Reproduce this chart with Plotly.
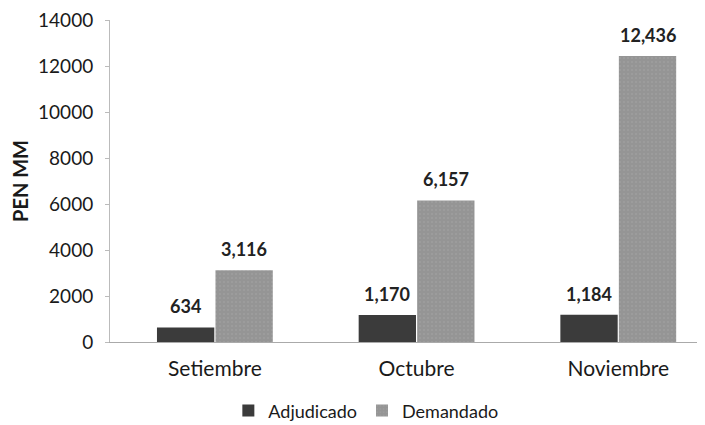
import plotly.graph_objects as go

months = ["Setiembre", "Octubre", "Noviembre"]
adjudicado = [634, 1170, 1184]
demandado = [3116, 6157, 12436]
y_ticks = [0, 2000, 4000, 6000, 8000, 10000, 12000, 14000]

font = "Lato, 'Open Sans', sans-serif"

fig = go.Figure()
fig.add_trace(go.Bar(name="Adjudicado", x=months, y=adjudicado,
                     marker=dict(color="#3b3b3b", line=dict(width=0)),
                     offsetgroup="a"))
fig.add_trace(go.Bar(name="Demandado", x=months, y=demandado,
                     marker=dict(color="#959595", line=dict(width=0),
                                 pattern=dict(shape=".", fgcolor="#a8a8a8", size=4, solidity=0.2)),
                     offsetgroup="d"))

# value labels above bars
for i, m in enumerate(months):
    for val, off in ((adjudicado[i], -0.145), (demandado[i], 0.145)):
        fig.add_annotation(x=i + off, y=val, text=f"{val:,}", showarrow=False,
                           yanchor="bottom", yshift=8, xref="x", yref="y",
                           font=dict(size=18, color="#222", family=font, weight="bold"))

# page body adds an 8px offset, margins account for it
fig.update_layout(
    width=705, height=425,
    margin=dict(l=102, r=8, t=12, b=91, autoexpand=False),
    paper_bgcolor="white", plot_bgcolor="white",
    barmode="group", bargap=0.42, bargroupgap=0.02,
    font=dict(family=font, size=16, color="#1a1a1a"),
    showlegend=True,
    legend=dict(orientation="h", x=0.43, xanchor="center", y=-0.214, yanchor="middle",
                font=dict(size=18, color="#1a1a1a"), itemwidth=30, traceorder="normal"),
    xaxis=dict(type="category", range=[-0.52, 2.43], showline=True, linecolor="#aaa",
               ticks="", tickfont=dict(size=21), automargin=False, ticklabelstandoff=8),
    yaxis=dict(range=[0, 14000], tickvals=y_ticks, ticktext=[str(t) for t in y_ticks],
               showgrid=False, showline=True, automargin=False,
               linecolor="#bbb", ticks="outside", ticklen=4, tickcolor="#bbb",
               ticklabelstandoff=8, ticklabeloverflow="allow",
               tickfont=dict(size=19), zeroline=False,
               title=dict(text="<b>PEN MM</b>", font=dict(size=20), standoff=8)),
)

fig.write_html("out.html")
